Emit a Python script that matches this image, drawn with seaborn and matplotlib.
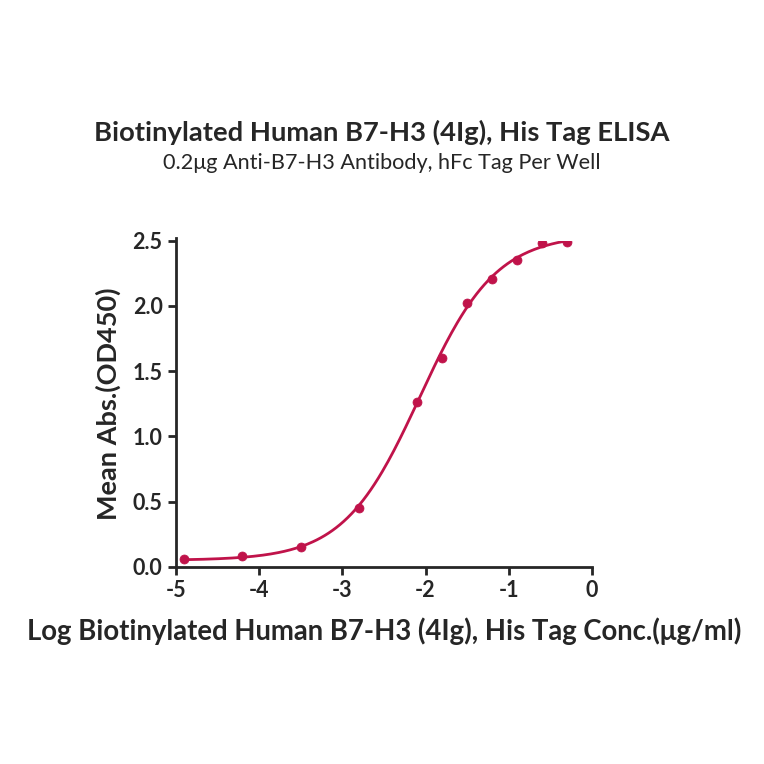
import numpy as np
import pandas as pd
import matplotlib
matplotlib.use("Agg")
import matplotlib.pyplot as plt
import seaborn as sns

# measured points
log_conc = [-4.9, -4.2, -3.5, -2.8, -2.1, -1.8, -1.5, -1.2, -0.9, -0.6, -0.3]
od450 = [0.06, 0.08, 0.15, 0.45, 1.26, 1.60, 2.02, 2.21, 2.35, 2.48, 2.49]

# 4PL fit parameters (estimated)
bottom, top, log_ec50, hill = 0.05, 2.55, -2.07, 0.95

color = "#C0134A"

sns.set_style("ticks")
plt.rcParams["font.family"] = ["Lato", "DejaVu Sans"]

df = pd.DataFrame({"x": log_conc, "y": od450})
xs = np.linspace(-4.9, -0.3, 200)
fit = pd.DataFrame({"x": xs, "y": bottom + (top - bottom) / (1 + 10 ** ((log_ec50 - xs) * hill))})

fig = plt.figure(figsize=(7.64, 7.64), dpi=100)
ax = fig.add_axes([0.230, 0.258, 0.545, 0.427])
sns.lineplot(data=fit, x="x", y="y", color=color, lw=2, ax=ax)
sns.scatterplot(data=df, x="x", y="y", color=color, s=42, edgecolor=color, ax=ax, zorder=3)

ax.set_xlim(-5, 0)
ax.set_ylim(0, 2.5)
ax.set_xticks([-5, -4, -3, -2, -1, 0])
ax.set_xticklabels(["-5", "-4", "-3", "-2", "-1", "0"])
ax.set_yticks([0, 0.5, 1.0, 1.5, 2.0, 2.5])
ax.set_yticklabels(["0.0", "0.5", "1.0", "1.5", "2.0", "2.5"])
for s in ["top", "right"]:
    ax.spines[s].set_visible(False)
for s in ["left", "bottom"]:
    ax.spines[s].set_linewidth(2)
ax.spines["left"].set_bounds(0, 2.52)
ax.tick_params(width=2, length=6, labelsize=15.5)
for lab in ax.get_xticklabels() + ax.get_yticklabels():
    lab.set_fontweight("bold")
ax.set_xlabel("Log Biotinylated Human B7-H3 (4Ig), His Tag Conc.(μg/ml)", fontsize=19.8, fontweight="bold", labelpad=12)
ax.set_ylabel("Mean Abs.(OD450)", fontsize=19.5, fontweight="bold", labelpad=8)

fig.text(0.5, 0.827, "Biotinylated Human B7-H3 (4Ig), His Tag ELISA", ha="center", va="center", fontsize=19.7, fontweight="bold")
fig.text(0.5, 0.787, "0.2μg Anti-B7-H3 Antibody, hFc Tag Per Well", ha="center", va="center", fontsize=15.6)

fig.savefig("out.png", dpi=100)
